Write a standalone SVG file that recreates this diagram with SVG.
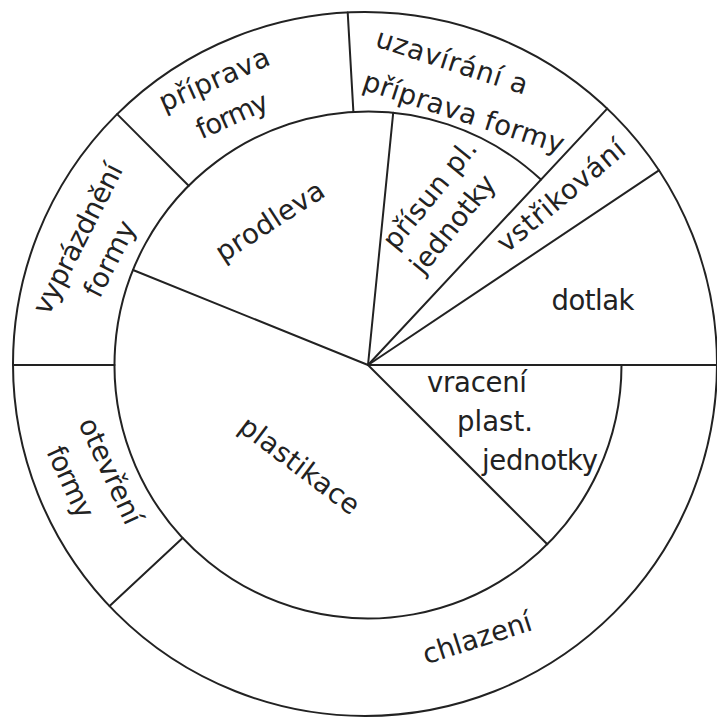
<svg xmlns="http://www.w3.org/2000/svg" width="717" height="722" viewBox="0 0 717 722">
<style>
.ln{stroke:#222;stroke-width:2;fill:none;stroke-linecap:round}
.t{font-family:"DejaVu Sans","Liberation Sans",sans-serif;font-size:27.5px;fill:#222;text-anchor:middle}
.s{text-anchor:start}
</style>
<rect width="717" height="722" fill="#fff"/>
<g id="rings">
<circle class="ln" cx="365" cy="364" r="352"/>
<path class="ln" d="M540.9,179.6 A253.5,253.5 0 1 0 621.5,365"/>
</g>
<g id="connectors" class="ln">
<line x1="13" y1="365" x2="114.5" y2="365"/>
<line x1="368" y1="365" x2="717" y2="365"/>
<line x1="368" y1="365" x2="133" y2="270"/>
<line x1="188.7" y1="185.7" x2="117.1" y2="114.1"/>
<line x1="353.4" y1="111.9" x2="347.7" y2="12.4"/>
<line x1="368" y1="365" x2="393.2" y2="112.8"/>
<line x1="368" y1="365" x2="607.2" y2="108.6"/>
<line x1="368" y1="365" x2="658.9" y2="170.3"/>
<line x1="368" y1="365" x2="547.3" y2="544.3"/>
<line x1="182.6" y1="538.1" x2="109.6" y2="606.1"/>
</g>
<g id="prodleva"><text class="t" transform="translate(275,229) rotate(-33)" textLength="124" lengthAdjust="spacing">prodleva</text></g>
<g id="priprava-formy">
<text class="t" transform="translate(218,88) rotate(-24)" textLength="118" lengthAdjust="spacing">příprava</text>
<text class="t" transform="translate(236,124) rotate(-24)" textLength="76" lengthAdjust="spacing">formy</text>
</g>
<g id="uzavirani">
<text class="t s" transform="translate(374,46) rotate(18)" textLength="158" lengthAdjust="spacing">uzavírání a</text>
<text class="t s" transform="translate(361,89) rotate(18)" textLength="210" lengthAdjust="spacing">příprava formy</text>
</g>
<g id="prisun">
<text class="t" transform="translate(437,200) rotate(-51)" textLength="132" lengthAdjust="spacing">přísun pl.</text>
<text class="t" transform="translate(460,230) rotate(-51)" textLength="118" lengthAdjust="spacing">jednotky</text>
</g>
<g id="vstrikovani"><text class="t" transform="translate(567,203) rotate(-40)" textLength="158" lengthAdjust="spacing">vstřikování</text></g>
<g id="dotlak"><text class="t" x="593" y="310" textLength="83" lengthAdjust="spacing">dotlak</text></g>
<g id="vraceni">
<text class="t" x="477" y="392" textLength="100" lengthAdjust="spacing">vracení</text>
<text class="t" x="495" y="431" textLength="76" lengthAdjust="spacing">plast.</text>
<text class="t" x="540" y="470" textLength="116" lengthAdjust="spacing">jednotky</text>
</g>
<g id="plastikace"><text class="t" transform="translate(294,473) rotate(37)" textLength="143" lengthAdjust="spacing">plastikace</text></g>
<g id="chlazeni"><text class="t" transform="translate(480,647) rotate(-18)" textLength="113" lengthAdjust="spacing">chlazení</text></g>
<g id="vyprazdneni">
<text class="t" transform="translate(86,243) rotate(-63)" textLength="165" lengthAdjust="spacing">vyprázdnění</text>
<text class="t" transform="translate(118,263) rotate(-63)" textLength="82" lengthAdjust="spacing">formy</text>
</g>
<g id="otevreni">
<text class="t" transform="translate(102,475) rotate(65)" textLength="114" lengthAdjust="spacing">otevření</text>
<text class="t" transform="translate(62,486) rotate(65)" textLength="76" lengthAdjust="spacing">formy</text>
</g>
</svg>
